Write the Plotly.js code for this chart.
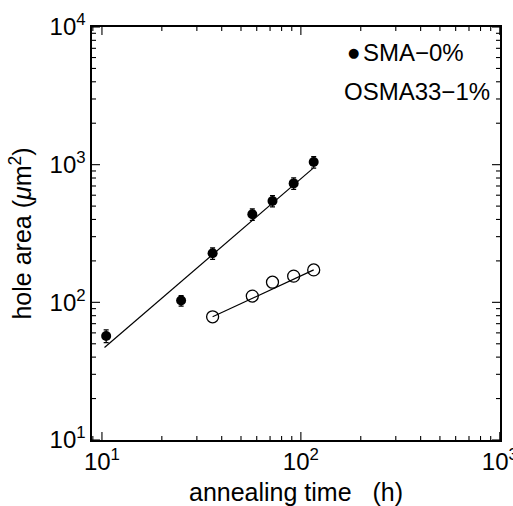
<!DOCTYPE html>
<html>
<head>
<meta charset="utf-8">
<script src="https://cdn.plot.ly/plotly-3.0.1.min.js"></script>
<style>html,body{margin:0;padding:0;background:#fff;}#chart{width:513px;height:506px;}</style>
</head>
<body>
<div id="chart"></div>
<script>
// Filled circles: SMA-0%
const smaTime = [10.5, 25, 36, 57, 72, 92, 116];
const smaArea = [57, 103, 227, 436, 545, 731, 1045];
const smaErr  = [6, 9, 22, 42, 52, 70, 100];
// Open circles: OSMA33-1%
const osmaTime = [36, 57, 72, 92, 116];
const osmaArea = [78.5, 111, 140, 155, 172];
// Fit lines
const smaFitTime = [10.3, 115];
const smaFitArea = [47, 940];
const osmaFitTime = [36, 116];
const osmaFitArea = [78.5, 172];
// Tick labels
const xTickVals = [10, 100, 1000];
const xTickText = ['10<sup>1</sup>', '10<sup>2</sup>', '10<sup>3</sup>'];
const yTickVals = [10, 100, 1000, 10000];
const yTickText = ['10<sup>1</sup>', '10<sup>2</sup>', '10<sup>3</sup>', '10<sup>4</sup>'];

const FONT = 'Liberation Sans, Arial, sans-serif';
const XR = [0.95, 3.001];
const YR = [1, 4];
const xLo = Math.pow(10, XR[0]), xHi = Math.pow(10, XR[1]);
const yLo = Math.pow(10, YR[0]), yHi = Math.pow(10, YR[1]);

function minorVals(lo, hi, min, max) {
  const v = [];
  for (let d = lo; d < hi; d *= 10) for (let k = 2; k <= 9; k++) {
    const t = d * k;
    if (t >= min && t <= max) v.push(t);
  }
  return v;
}
const xMinor = minorVals(1, 1000, xLo, xHi);
const yMinor = minorVals(10, 10000, yLo, yHi);

// inside tick marks on all four sides: line markers centred on the frame,
// half of each clipped away by the plot area
function xEdgeTicks(vals, len) {
  return {x: vals.concat(vals), y: vals.map(() => yLo).concat(vals.map(() => yHi)),
    mode: 'markers', cliponaxis: true, hoverinfo: 'skip',
    marker: {symbol: 'line-ns-open', size: len * 2 / 1.4, color: 'black', line: {color: 'black', width: 1.1}}};
}
function yEdgeTicks(vals, len) {
  return {y: vals.concat(vals), x: vals.map(() => xLo).concat(vals.map(() => xHi)),
    mode: 'markers', cliponaxis: true, hoverinfo: 'skip',
    marker: {symbol: 'line-ew-open', size: len * 2 / 1.4, color: 'black', line: {color: 'black', width: 1.1}}};
}

const traces = [
  xEdgeTicks(xTickVals, 8), xEdgeTicks(xMinor, 4),
  yEdgeTicks(yTickVals, 8), yEdgeTicks(yMinor, 4),
  {x: smaFitTime, y: smaFitArea, mode: 'lines', line: {color: 'black', width: 1.2}},
  {x: osmaFitTime, y: osmaFitArea, mode: 'lines', line: {color: 'black', width: 1.2}},
  {x: smaTime, y: smaArea, mode: 'markers',
   marker: {symbol: 'circle', size: 10, color: 'black'},
   error_y: {type: 'data', array: smaErr, visible: true, color: 'black', thickness: 1.2, width: 2.5}},
  {x: osmaTime, y: osmaArea, mode: 'markers',
   marker: {symbol: 'circle-open', size: 12, color: 'black', line: {width: 1.3}}}
];

const layout = {
  width: 513, height: 506,
  margin: {l: 92, r: 13, t: 27, b: 66},
  showlegend: false,
  xaxis: {
    type: 'log', range: XR, showline: true, linecolor: 'black', linewidth: 1.6, mirror: true,
    ticks: '', showgrid: false,
    tickmode: 'array', tickvals: xTickVals, ticktext: xTickText, ticklabeloverflow: 'allow',
    tickfont: {family: FONT, size: 24, color: 'black'},
    title: {text: 'annealing time&nbsp;&nbsp;&nbsp;(h)', font: {family: FONT, size: 25, color: 'black'}}
  },
  yaxis: {
    type: 'log', range: YR, showline: true, linecolor: 'black', linewidth: 1.6, mirror: true,
    ticks: '', showgrid: false,
    tickmode: 'array', tickvals: yTickVals, ticktext: yTickText,
    tickfont: {family: FONT, size: 24, color: 'black'},
    title: {text: 'hole area (<i>μ</i>m<sup>2</sup>)', font: {family: FONT, size: 25, color: 'black'}}
  },
  annotations: [
    {xref: 'paper', yref: 'paper', x: 0.640, y: 0.939, xanchor: 'center', yanchor: 'middle', showarrow: false,
     text: '●', font: {family: 'DejaVu Sans', size: 13, color: 'black'}},
    {xref: 'paper', yref: 'paper', x: 0.660, y: 0.939, xanchor: 'left', yanchor: 'middle', showarrow: false,
     text: 'SMA−0%', font: {family: FONT, size: 24, color: 'black'}},
    {xref: 'paper', yref: 'paper', x: 0.612, y: 0.843, xanchor: 'left', yanchor: 'middle', showarrow: false,
     text: 'OSMA33−1%', font: {family: FONT, size: 24, color: 'black'}}
  ]
};

Plotly.newPlot('chart', traces, layout, {displayModeBar: false, staticPlot: true});
</script>
</body>
</html>
